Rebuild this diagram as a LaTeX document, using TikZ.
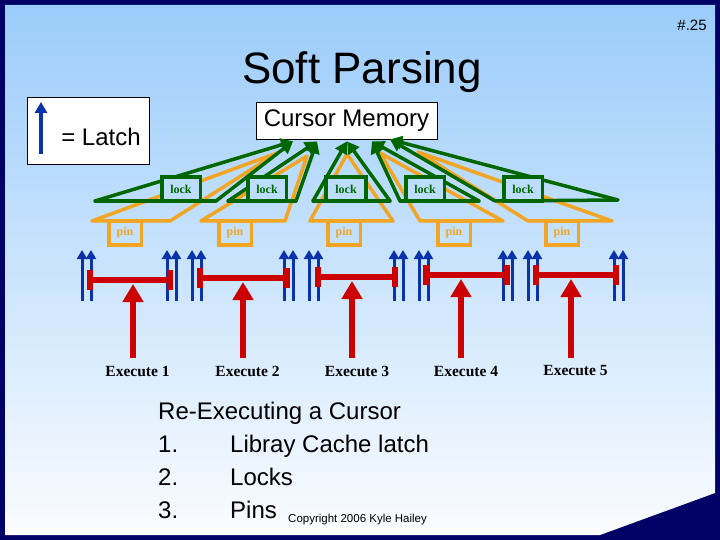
\documentclass[tikz,border=0pt]{standalone}
\usepackage{fontspec}
\setmainfont{Liberation Sans}
\newfontfamily\timesfont{Liberation Serif}
\usetikzlibrary{positioning,arrows.meta}

\definecolor{framenavy}{RGB}{0,0,102}
\definecolor{slidetop}{RGB}{155,204,250}
\definecolor{slidebottom}{RGB}{250,252,255}
\definecolor{lockfill}{RGB}{189,221,252}
\definecolor{lockgreen}{RGB}{0,102,0}
\definecolor{pinorange}{RGB}{242,165,35}
\definecolor{latchblue}{RGB}{10,50,170}
\definecolor{execred}{RGB}{204,0,0}

\begin{document}
\begin{tikzpicture}[x=1pt,y=-1pt,
whitebox/.style={draw=black,fill=white,line width=.8pt,inner sep=0pt},
bigtext/.style={font=\fontsize{24}{24}\selectfont},
lockbox/.style={draw=lockgreen,fill=lockfill,line width=3.5pt,minimum width=38.5pt,minimum height=24pt,inner sep=0pt,text=lockgreen,font=\timesfont\bfseries\fontsize{12}{12}\selectfont},
pinbox/.style={draw=pinorange,line width=3.5pt,minimum width=32.5pt,minimum height=24pt,inner sep=0pt,text=pinorange,font=\timesfont\bfseries\fontsize{12}{12}\selectfont},
lockline/.style={draw=lockgreen,line width=3.5pt,line cap=round},
lockarrow/.style={draw=lockgreen,line width=3.5pt,-{Triangle[width=13pt,length=12pt]}},
pinline/.style={draw=pinorange,line width=3.5pt,line join=round},
latch/.style={draw=latchblue,line width=3pt,-{Triangle[width=10pt,length=9pt]}},
redbar/.style={draw=execred,line width=6pt,{Bar[width=20pt]}-{Bar[width=20pt]}},
exec/.style={draw=execred,line width=6pt,-{Triangle[width=20pt,length=18pt]}},
exlabel/.style={font=\timesfont\bfseries\fontsize{15.5}{15.5}\selectfont,inner sep=7.5pt}]

% slide
\fill[framenavy] (0,0) rectangle (720,540);
\shade[top color=slidetop,bottom color=slidebottom] (5,5) -- (715,5) -- (715,493) -- (600,535) -- (5,535) -- cycle;
\node[font=\fontsize{44}{44}\selectfont] (title) at (362,72) {Soft Parsing};
\node[font=\fontsize{15}{15}\selectfont] (slideno) at (692,25) {\#.25};

% legend
\node[whitebox,minimum width=122pt,minimum height=67pt] (legend) at (88,130.5) {};
\node[bigtext] (latchtext) at (101,137) {= Latch};
\coordinate (legtail) at (41,154);
\coordinate (leghead) at (41,102);
\draw[latch,line width=4pt,-{Triangle[width=12pt,length=11pt]}] (legtail) -- (leghead);

\node[whitebox,bigtext,minimum width=181pt,minimum height=37pt] (mem) at (346.5,120.5) {Cursor Memory};

% pins
\draw[pinline] (92,221) -- (277,153) -- (170,221) -- cycle;
\draw[pinline] (201,221) -- (307,156) -- (285,221) -- cycle;
\draw[pinline] (310,221) -- (347,154) -- (393,221) -- cycle;
\draw[pinline] (420,221) -- (380,153) -- (503,221) -- cycle;
\draw[pinline] (528,221) -- (418,152) -- (612,221) -- cycle;
\node[pinbox] (pin1) at (125,233) {pin};
\node[pinbox] (pin2) at (235,233) {pin};
\node[pinbox] (pin3) at (344,233) {pin};
\node[pinbox] (pin4) at (454,233) {pin};
\node[pinbox] (pin5) at (562,233) {pin};

% locks
\coordinate (tip1) at ([xshift=-53.5pt,yshift=-2pt]mem.south);
\coordinate (tip2) at ([xshift=-29.5pt,yshift=-2pt]mem.south);
\coordinate (tip3) at ([xshift=0.5pt,yshift=-2pt]mem.south);
\coordinate (tip4) at ([xshift=25.5pt,yshift=-2pt]mem.south);
\coordinate (tip5) at ([xshift=43.5pt]mem.south);
\coordinate (gl1) at (95,201); \coordinate (gr1) at (216,201);
\coordinate (gl2) at (228,201); \coordinate (gr2) at (296,201);
\coordinate (gl3) at (313,201); \coordinate (gr3) at (390,201);
\coordinate (gl4) at (400,201); \coordinate (gr4) at (479,201);
\coordinate (gl5) at (495,201); \coordinate (gr5) at (618,200);
\draw[lockline] (gl1) -- (gr1);
\draw[lockarrow] (gl1) -- (tip1);
\draw[lockarrow] (gr1) -- (tip1);
\draw[lockline] (gl2) -- (gr2);
\draw[lockarrow] (gl2) -- (tip2);
\draw[lockarrow] (gr2) -- (tip2);
\draw[lockline] (gl3) -- (gr3);
\draw[lockarrow] (gl3) -- (tip3);
\draw[lockarrow] (gr3) -- (tip3);
\draw[lockline] (gl4) -- (gr4);
\draw[lockarrow] (gl4) -- (tip4);
\draw[lockarrow] (gr4) -- (tip4);
\draw[lockline] (gl5) -- (gr5);
\draw[lockarrow] (gl5) -- (tip5);
\draw[lockarrow] (gr5) -- (tip5);
\node[lockbox] (lock1) at (181,189) {lock};
\node[lockbox] (lock2) at (267,189) {lock};
\node[lockbox,minimum width=40pt] (lock3) at (346,189) {lock};
\node[lockbox] (lock4) at (425,189) {lock};
\node[lockbox] (lock5) at (523,189) {lock};

% latches
\draw[latch] (82,301) -- (82,250); \draw[latch] (91,301) -- (91,250);
\draw[latch] (167,301) -- (167,250); \draw[latch] (176,301) -- (176,250);
\draw[latch] (192,301) -- (192,250); \draw[latch] (201,301) -- (201,250);
\draw[latch] (284,301) -- (284,250); \draw[latch] (293,301) -- (293,250);
\draw[latch] (309,301) -- (309,250); \draw[latch] (318,301) -- (318,250);
\draw[latch] (394,301) -- (394,250); \draw[latch] (403,301) -- (403,250);
\draw[latch] (419,301) -- (419,250); \draw[latch] (428,301) -- (428,250);
\draw[latch] (503,301) -- (503,250); \draw[latch] (512,301) -- (512,250);
\draw[latch] (528,301) -- (528,250); \draw[latch] (537,301) -- (537,250);
\draw[latch] (614,301) -- (614,250); \draw[latch] (623,301) -- (623,250);

% executions
\draw[redbar] (87,280) -- (173,280);
\draw[redbar] (197,278) -- (290,278);
\draw[redbar] (315,277) -- (398,277);
\draw[redbar] (423,275) -- (510,275);
\draw[redbar] (533,275) -- (619,275);
\coordinate (hit1) at (133,284);
\coordinate (hit2) at (243,282);
\coordinate (hit3) at (352,281);
\coordinate (hit4) at (461,279);
\coordinate (hit5) at (571,279);
\node[exlabel] (ex1) at (137.5,371) {Execute 1};
\node[exlabel] (ex2) at (247.5,371) {Execute 2};
\node[exlabel] (ex3) at (357,371) {Execute 3};
\node[exlabel] (ex4) at (466,371) {Execute 4};
\node[exlabel] (ex5) at (575.5,371) {Execute 5};
\draw[exec] (hit1 |- ex1.north) -- (hit1);
\draw[exec] (hit2 |- ex2.north) -- (hit2);
\draw[exec] (hit3 |- ex3.north) -- (hit3);
\draw[exec] (hit4 |- ex4.north) -- (hit4);
\draw[exec] (hit5 |- ex5.north) -- (hit5);

% summary
\node[anchor=north west,inner sep=0pt,font=\fontsize{24}{33}\selectfont] (recap) at (158,396.5) {%
\begin{tabular}{@{}p{72pt}@{}l@{}}
\multicolumn{2}{@{}l@{}}{Re-Executing a Cursor}\\
1. & Libray Cache latch\\
2. & Locks\\
3. & Pins
\end{tabular}};
\node[anchor=base west,inner sep=0pt,font=\fontsize{11.5}{11.5}\selectfont] (copyright) at (288,522) {Copyright 2006 Kyle Hailey};
\end{tikzpicture}
\end{document}
